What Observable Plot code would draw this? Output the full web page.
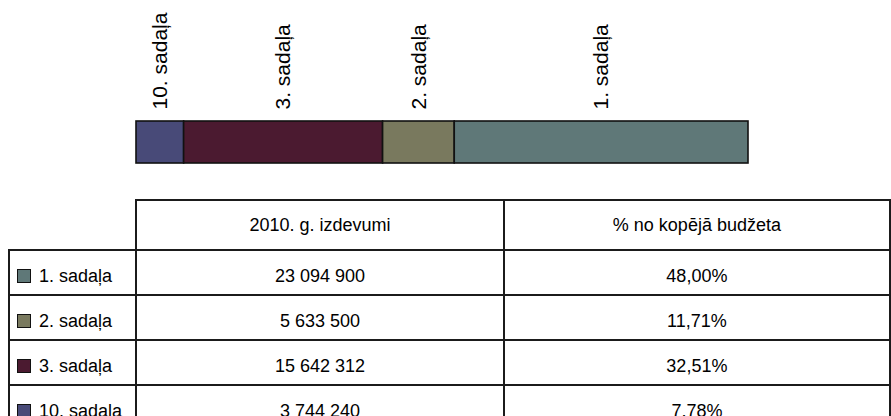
<!DOCTYPE html>
<html>
<head>
<meta charset="utf-8">
<script src="https://cdn.jsdelivr.net/npm/d3@7"></script>
<script src="https://cdn.jsdelivr.net/npm/@observablehq/plot@0.6"></script>
<style>
  html, body { margin: 0; padding: 0; background: #fff; width: 891px; height: 416px; overflow: hidden;
    font-family: "Liberation Sans", Arial, sans-serif; }
  #wrap { position: relative; width: 891px; height: 416px; overflow: hidden; }
  #chart { position: absolute; left: 0; top: 0; }
  #tbl { position: absolute; left: 8px; top: 199px; border-collapse: collapse; table-layout: fixed;
    font-size: 18px; color: #000; }
  #tbl td, #tbl th { border: 2px solid #1b1b1b; padding: 0; font-weight: normal; text-align: center;
    vertical-align: middle; white-space: nowrap; overflow: hidden; }
  #tbl thead th { height: 48px; }
  #tbl tbody td { height: 35px; padding-top: 8px; }
  #tbl th.blank { border-top: hidden; border-left: hidden; }
  #tbl td.lab { text-align: left; padding-left: 7px; }
  .sw { display: inline-block; width: 12px; height: 12px; border: 1.5px solid #111; margin-right: 8px;
    vertical-align: -1px; }
</style>
</head>
<body>
<div id="wrap">
  <div id="chart"></div>
  <table id="tbl">
    <colgroup><col style="width:128px"><col style="width:382px"><col style="width:400px"></colgroup>
    <thead><tr id="hdr"></tr></thead>
    <tbody id="body"></tbody>
  </table>
</div>
<script>
// ---- data ----
const categories = ["1. sadaļa", "2. sadaļa", "3. sadaļa", "10. sadaļa"];
const spending = [23094900, 5633500, 15642312, 3744240];
const shares = [48.00, 11.71, 32.51, 7.78];
const colors = ["#5F7878", "#79795E", "#4B1A30", "#484A78"];
const barOrder = ["10. sadaļa", "3. sadaļa", "2. sadaļa", "1. sadaļa"];
const columnHeaders = ["2010. g. izdevumi", "% no kopējā budžeta"];
const year = "2010";

const rows = categories.map((c, i) => ({category: c, value: spending[i], share: shares[i], year}));
const barRows = barOrder.map(c => rows.find(r => r.category === c));

const chart = Plot.plot({
  width: 891,
  height: 199,
  marginLeft: 136,
  marginRight: 143,
  marginTop: 121,
  marginBottom: 36,
  x: {domain: [0, d3.sum(spending)], axis: null},
  y: {domain: [year], axis: null, padding: 0},
  color: {domain: categories, range: colors},
  style: {fontFamily: "'Liberation Sans', Arial, sans-serif", background: "white", overflow: "visible"},
  marks: [
    Plot.barX(barRows, Plot.stackX({x: "value", y: "year", fill: "category", stroke: "#111", strokeWidth: 1.6})),
    Plot.text(barRows, Plot.stackX({x: "value", y: "year", z: "category", text: "category",
      rotate: -90, textAnchor: "start", dy: -33, fontSize: 21, fill: "black"}))
  ]
});
document.getElementById("chart").appendChild(chart);

// ---- table ----
const loc = d3.formatLocale({decimal: ",", thousands: " ", grouping: [3], currency: ["", ""]});
const fmtNum = loc.format(",d");
const fmtPct = loc.format(".2f");
const colorOf = new Map(categories.map((c, i) => [c, colors[i]]));

const hdr = document.getElementById("hdr");
const blank = document.createElement("th");
blank.className = "blank";
hdr.appendChild(blank);
columnHeaders.forEach(h => {
  const th = document.createElement("th");
  th.textContent = h;
  hdr.appendChild(th);
});
const body = document.getElementById("body");
rows.forEach(r => {
  const tr = document.createElement("tr");
  const td0 = document.createElement("td");
  td0.className = "lab";
  const sw = document.createElement("span");
  sw.className = "sw";
  sw.style.background = colorOf.get(r.category);
  td0.appendChild(sw);
  td0.appendChild(document.createTextNode(r.category));
  const td1 = document.createElement("td");
  td1.textContent = fmtNum(r.value);
  const td2 = document.createElement("td");
  td2.textContent = fmtPct(r.share) + "%";
  tr.append(td0, td1, td2);
  body.appendChild(tr);
});
</script>
</body>
</html>
